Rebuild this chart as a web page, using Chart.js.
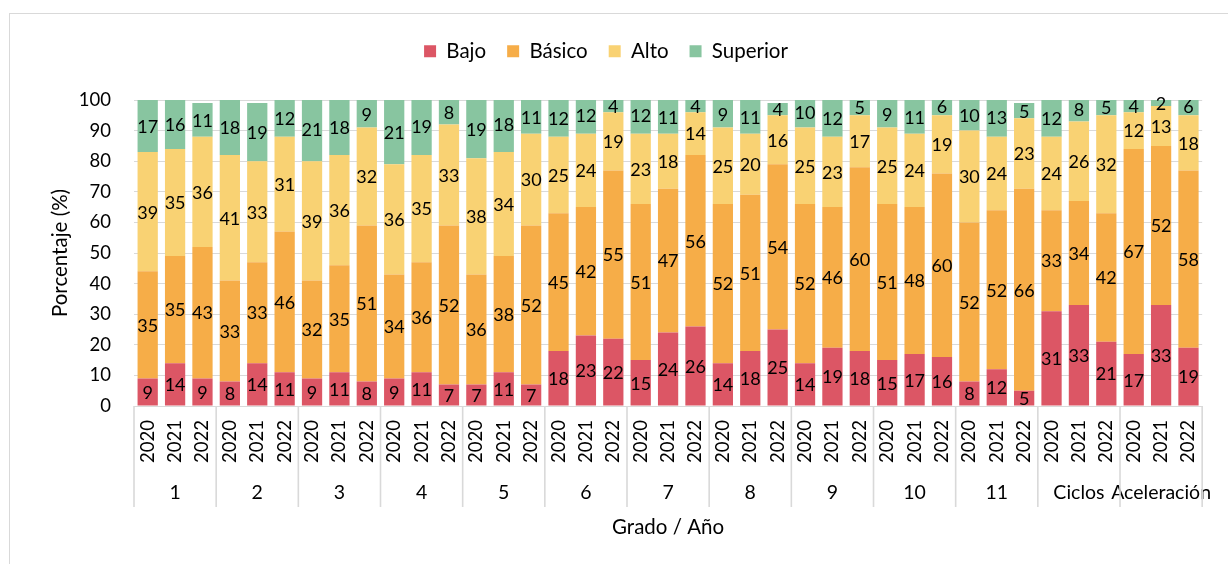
<!DOCTYPE html>
<html>
<head>
<meta charset="utf-8">
<script src="https://cdn.jsdelivr.net/npm/chart.js@4.4.1/dist/chart.umd.min.js"></script>
<style>
  html, body { margin: 0; padding: 0; background: #fff; overflow: hidden; }
  #wrap { position: relative; width: 1228px; height: 564px; }
  #frame { position: absolute; left: 9px; top: 13px; width: 1260px; height: 600px;
           border: 1px solid #d9d9d9; box-sizing: border-box; }
  #c { position: absolute; left: 0; top: 0; }
</style>
</head>
<body>
<div id="wrap">
  <div id="frame"></div>
  <canvas id="c" width="1228" height="564"></canvas>
</div>
<script>
// Grades and school years on the two-level category axis
const grades = ['1', '2', '3', '4', '5', '6', '7', '8', '9', '10', '11', 'Ciclos', 'Aceleración'];
const years = ['2020', '2021', '2022'];

// Percentage of students per performance level, three years per grade
const bajo     = [9, 14, 9,   8, 14, 11,  9, 11, 8,   9, 11, 7,   7, 11, 7,   18, 23, 22, 15, 24, 26, 14, 18, 25, 14, 19, 18, 15, 17, 16, 8, 12, 5,   31, 33, 21, 17, 33, 19];
const basico   = [35, 35, 43, 33, 33, 46, 32, 35, 51, 34, 36, 52, 36, 38, 52, 45, 42, 55, 51, 47, 56, 52, 51, 54, 52, 46, 60, 51, 48, 60, 52, 52, 66, 33, 34, 42, 67, 52, 58];
const alto     = [39, 35, 36, 41, 33, 31, 39, 36, 32, 36, 35, 33, 38, 34, 30, 25, 24, 19, 23, 18, 14, 25, 20, 16, 25, 23, 17, 25, 24, 19, 30, 24, 23, 24, 26, 32, 12, 13, 18];
const superior = [17, 16, 11, 18, 19, 12, 21, 18, 9,  21, 19, 8,  19, 18, 11, 12, 12, 4,  12, 11, 4,  9, 11, 4,   10, 12, 5,  9, 11, 6,   10, 13, 5,  12, 8, 5,   4, 2, 6];

const yTicks = { min: 0, max: 100, step: 10 };

const FONT = 'Lato';
const TEXT = '#000000';
const GRID = '#d9d9d9';

// One bar per grade/year pair
const barLabels = [];
grades.forEach(() => years.forEach(y => barLabels.push(y)));

// Value labels centred inside each stacked segment
const segmentLabels = {
  id: 'segmentLabels',
  afterDatasetsDraw(chart) {
    const ctx = chart.ctx;
    ctx.save();
    ctx.font = `18px ${FONT}`;
    ctx.fillStyle = TEXT;
    ctx.textAlign = 'center';
    ctx.textBaseline = 'middle';
    chart.data.datasets.forEach((ds, i) => {
      const meta = chart.getDatasetMeta(i);
      if (meta.hidden) return;
      meta.data.forEach((bar, j) => {
        const p = bar.getProps(['x', 'y', 'base'], true);
        ctx.fillText(String(ds.data[j]), p.x, (p.y + p.base) / 2 + 1);
      });
    });
    ctx.restore();
  }
};

// Vertical dividers between grade groups below the plot
const groupDividers = {
  id: 'groupDividers',
  afterDraw(chart) {
    const x = chart.scales.x, x2 = chart.scales.x2;
    const ctx = chart.ctx;
    const half = (x.getPixelForTick(1) - x.getPixelForTick(0)) / 2;
    ctx.save();
    ctx.strokeStyle = GRID;
    ctx.lineWidth = 1.6;
    for (let g = 0; g <= grades.length; g++) {
      const px = g < grades.length
        ? x.getPixelForTick(g * years.length) - half
        : x.getPixelForTick(g * years.length - 1) + half;
      ctx.beginPath();
      ctx.moveTo(px, chart.chartArea.bottom);
      ctx.lineTo(px, x2.top + 42);
      ctx.stroke();
    }
    ctx.restore();
  }
};

// Extra room between the legend and the plot
const legendGap = {
  id: 'legendGap',
  beforeInit(chart) {
    if (!chart.legend) return;
    const fit = chart.legend.fit;
    chart.legend.fit = function () {
      fit.call(this);
      this.height += 28.5;
    };
  }
};

new Chart(document.getElementById('c'), {
  type: 'bar',
  data: {
    labels: barLabels,
    datasets: [
      { label: 'Bajo',     data: bajo,     backgroundColor: '#DC5665' },
      { label: 'Básico',   data: basico,   backgroundColor: '#F6AD48' },
      { label: 'Alto',     data: alto,     backgroundColor: '#F9D273' },
      { label: 'Superior', data: superior, backgroundColor: '#88C5A0' }
    ]
  },
  plugins: [legendGap, segmentLabels, groupDividers],
  options: {
    responsive: false,
    animation: false,
    devicePixelRatio: 1,
    datasets: { bar: { categoryPercentage: 1, barPercentage: 0.74, borderWidth: 0 } },
    layout: { padding: { top: 20, right: 16, bottom: 0, left: 0 } },
    plugins: {
      tooltip: { enabled: false },
      legend: {
        position: 'top',
        labels: {
          boxWidth: 12, boxHeight: 12, padding: 21,
          color: TEXT, font: { family: FONT, size: 20.5 }
        }
      }
    },
    scales: {
      x: {
        stacked: true,
        weight: 0,
        grid: { display: false, drawTicks: false },
        border: { display: false },
        ticks: {
          autoSkip: false, minRotation: 90, maxRotation: 90, padding: 14,
          color: TEXT, font: { family: FONT, size: 18.5 }
        },
        afterFit(scale) { scale.height = 59; }
      },
      x2: {
        type: 'category',
        labels: grades,
        offset: true,
        position: 'bottom',
        weight: 1,
        grid: { display: false, drawTicks: false },
        border: { display: false },
        ticks: { autoSkip: false, maxRotation: 0, padding: 16, color: TEXT, font: { family: FONT, size: 19.5 } },
        title: {
          display: true, text: 'Grado / Año', color: TEXT,
          font: { family: FONT, size: 20.5 }, padding: { top: 0, bottom: 24.7 }
        },
        afterFit(scale) { scale.height = 99; }
      },
      y: {
        stacked: true,
        min: yTicks.min, max: yTicks.max,
        grid: { color: GRID, lineWidth: 1, drawTicks: false },
        border: { display: false },
        ticks: { stepSize: yTicks.step, padding: 23, color: TEXT, font: { family: FONT, size: 18.5 } },
        title: {
          display: true, text: 'Porcentaje (%)', color: TEXT,
          font: { family: FONT, size: 20.5 }, padding: { top: 47.7, bottom: 0 }
        },
        afterFit(scale) { scale.width = 134; }
      }
    }
  }
});
</script>
</body>
</html>
